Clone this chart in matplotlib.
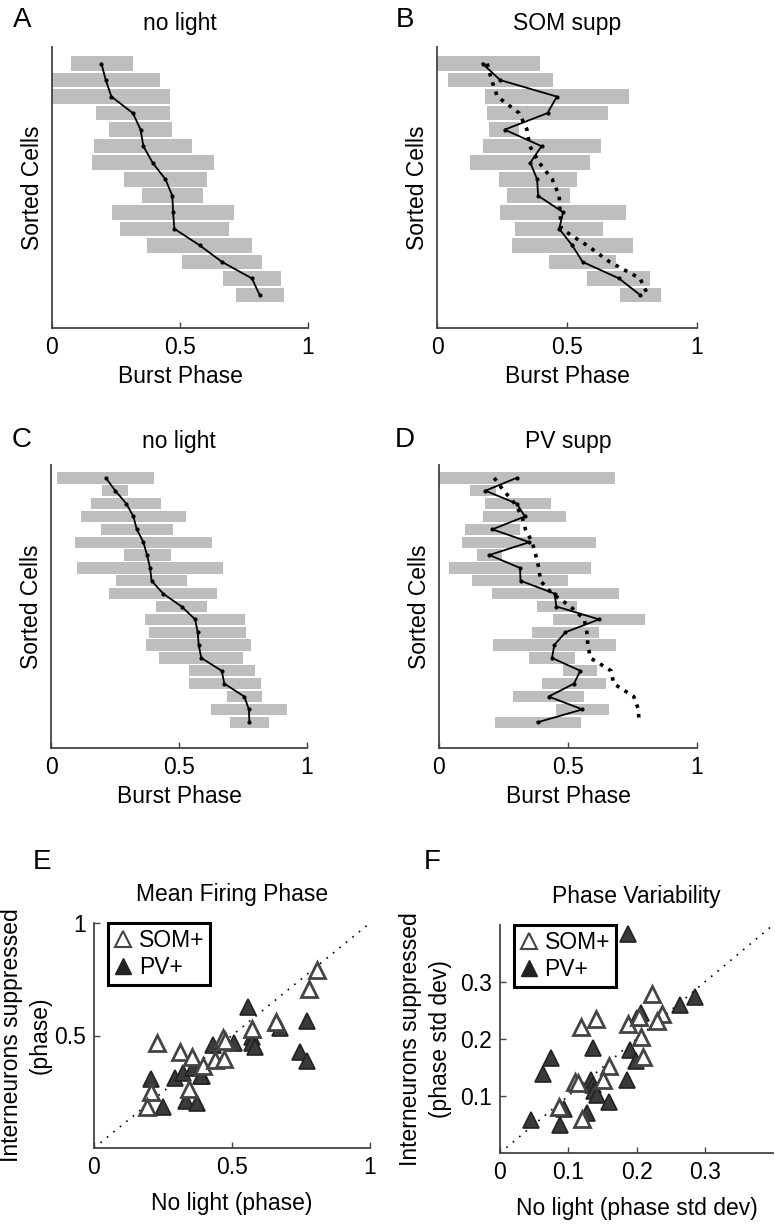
import numpy as np
import matplotlib
matplotlib.use('Agg')
import matplotlib.pyplot as plt
from matplotlib.lines import Line2D

plt.rcParams['font.family'] = ['Liberation Sans', 'DejaVu Sans']

# ---- panel A / B : SOM experiment (15 cells) ----
a_left = [0.073, 0.0, 0.0, 0.172, 0.223, 0.164, 0.158, 0.280, 0.350, 0.234, 0.267, 0.371, 0.509, 0.668, 0.719]
a_right = [0.315, 0.421, 0.460, 0.460, 0.469, 0.548, 0.632, 0.605, 0.589, 0.712, 0.693, 0.781, 0.819, 0.896, 0.905]
a_mean = [0.193, 0.210, 0.232, 0.316, 0.346, 0.357, 0.393, 0.443, 0.470, 0.473, 0.478, 0.577, 0.664, 0.781, 0.811]

b_left = [0.0, 0.044, 0.183, 0.192, 0.201, 0.175, 0.127, 0.237, 0.269, 0.243, 0.300, 0.287, 0.432, 0.575, 0.704]
b_right = [0.396, 0.445, 0.740, 0.659, 0.317, 0.629, 0.588, 0.539, 0.512, 0.728, 0.638, 0.753, 0.687, 0.821, 0.860]
b_mean = [0.175, 0.243, 0.461, 0.425, 0.260, 0.402, 0.359, 0.385, 0.389, 0.485, 0.470, 0.520, 0.560, 0.700, 0.781]

# ---- panel C / D : PV experiment (20 cells) ----
c_left = [0.022, 0.199, 0.158, 0.118, 0.195, 0.092, 0.284, 0.100, 0.255, 0.225,
          0.411, 0.367, 0.384, 0.371, 0.423, 0.538, 0.538, 0.689, 0.626, 0.698]
c_right = [0.404, 0.301, 0.431, 0.526, 0.477, 0.628, 0.467, 0.673, 0.533, 0.648,
           0.608, 0.757, 0.760, 0.783, 0.750, 0.796, 0.819, 0.823, 0.922, 0.853]
c_mean = [0.214, 0.251, 0.294, 0.322, 0.335, 0.361, 0.375, 0.387, 0.393, 0.438,
          0.510, 0.563, 0.573, 0.577, 0.587, 0.667, 0.677, 0.755, 0.773, 0.775]

d_left = [0.0, 0.121, 0.177, 0.171, 0.101, 0.089, 0.147, 0.040, 0.129, 0.205,
          0.381, 0.441, 0.362, 0.208, 0.348, 0.479, 0.401, 0.288, 0.455, 0.218]
d_right = [0.683, 0.221, 0.433, 0.494, 0.313, 0.609, 0.243, 0.588, 0.500, 0.698,
           0.534, 0.798, 0.619, 0.687, 0.527, 0.614, 0.647, 0.563, 0.658, 0.549]
d_mean = [0.301, 0.180, 0.301, 0.333, 0.207, 0.350, 0.195, 0.314, 0.316, 0.448,
          0.455, 0.620, 0.490, 0.447, 0.438, 0.548, 0.523, 0.425, 0.556, 0.382]

# ---- panel E : mean firing phase ----
e_som_x = [0.807, 0.780, 0.229, 0.312, 0.354, 0.394, 0.469, 0.475, 0.438, 0.471, 0.571, 0.659, 0.207, 0.193, 0.343]
e_som_y = [0.791, 0.707, 0.465, 0.428, 0.406, 0.366, 0.490, 0.476, 0.391, 0.394, 0.527, 0.561, 0.250, 0.181, 0.261]
e_pv_x = [0.559, 0.773, 0.659, 0.674, 0.571, 0.571, 0.583, 0.432, 0.507, 0.746,
          0.773, 0.207, 0.293, 0.324, 0.360, 0.390, 0.386, 0.251, 0.333, 0.374]
e_pv_y = [0.628, 0.564, 0.554, 0.532, 0.495, 0.465, 0.447, 0.458, 0.465, 0.428,
          0.388, 0.305, 0.310, 0.335, 0.354, 0.321, 0.321, 0.181, 0.210, 0.201]

# ---- panel F : phase variability ----
f_som_x = [0.223, 0.237, 0.230, 0.188, 0.203, 0.118, 0.141, 0.207, 0.210, 0.160, 0.151, 0.110, 0.115, 0.087, 0.120]
f_som_y = [0.279, 0.244, 0.232, 0.227, 0.239, 0.221, 0.235, 0.203, 0.169, 0.153, 0.128, 0.125, 0.123, 0.080, 0.059]
f_pv_x = [0.187, 0.264, 0.285, 0.207, 0.200, 0.074, 0.063, 0.136, 0.190, 0.199,
          0.134, 0.136, 0.138, 0.142, 0.160, 0.186, 0.045, 0.094, 0.088, 0.127]
f_pv_y = [0.384, 0.260, 0.274, 0.246, 0.236, 0.166, 0.139, 0.185, 0.180, 0.162,
          0.128, 0.119, 0.108, 0.102, 0.090, 0.128, 0.058, 0.077, 0.049, 0.070]

BAR = '#bebebe'
SPINE = '#444444'
FS = 16.5

fig = plt.figure(figsize=(7.75, 12.24), dpi=100)
W, H = 775.0, 1224.0


def add_ax(x0, x1, y0, y1):
    # pixel box -> figure fraction
    return fig.add_axes([x0 / W, 1 - y1 / H, (x1 - x0) / W, (y1 - y0) / H])


def style(ax):
    for s in ['top', 'right']:
        ax.spines[s].set_visible(False)
    for s in ['left', 'bottom']:
        ax.spines[s].set_color(SPINE)
        ax.spines[s].set_linewidth(1.3)
    ax.tick_params(direction='in', length=4, width=1, colors=SPINE, labelcolor='black',
                   labelsize=FS, pad=6)


def bar_panel(ax, left, right, mean, title, ref=None):
    n = len(mean)
    rows = np.arange(1, n + 1)
    ax.barh(rows, np.array(right) - np.array(left), left=left, height=0.88, color=BAR)
    if ref is not None:
        ax.plot(ref, rows, color='black', ls=(0, (1, 1.7)), lw=2.6)
    ax.plot(mean, rows, color='black', lw=1.3, marker='.', ms=4)
    ax.set_xlim(0, 1)
    ax.set_ylim(n + 2, 0)
    ax.set_xticks([0, 0.5, 1])
    ax.set_xticklabels(['0', '0.5', '1'])
    ax.set_yticks([])
    ax.set_xlabel('Burst Phase', fontsize=FS, labelpad=4)
    ax.set_ylabel('Sorted Cells', fontsize=FS, labelpad=6)
    ax.set_title(title, fontsize=FS, pad=12)
    style(ax)


axA = add_ax(52, 308, 47, 328)
bar_panel(axA, a_left, a_right, a_mean, 'no light')
axB = add_ax(437, 697, 47, 328)
bar_panel(axB, b_left, b_right, b_mean, 'SOM supp', ref=a_mean)
axC = add_ax(51, 307, 465, 748)
bar_panel(axC, c_left, c_right, c_mean, 'no light')
axD = add_ax(439, 697, 465, 748)
bar_panel(axD, d_left, d_right, d_mean, 'PV supp', ref=c_mean)


def scatter_panel(ax, sx, sy, px, py, lim, title, xlabel, ylab1, ylab2, y1x, y2x):
    ax.plot([0, lim], [0, lim], color='black', ls=(0, (1, 4)), lw=1.2)
    ax.plot(px, py, ls='none', marker='^', ms=11, mfc='#3a3a3a', mec='#222222', mew=1.2)
    ax.plot(sx, sy, ls='none', marker='^', ms=11, mfc='white', mec='#444444', mew=2)
    ax.set_xlim(0, lim)
    ax.set_ylim(0, lim)
    ax.set_title(title, fontsize=FS, pad=16)
    ax.set_xlabel(xlabel, fontsize=FS, labelpad=9)
    style(ax)
    # two-line y label, each line placed on its own
    ax.text(y1x, 0.5, ylab1, transform=ax.transAxes, rotation=90, fontsize=FS,
            ha='center', va='center')
    ax.text(y2x, 0.5, ylab2, transform=ax.transAxes, rotation=90, fontsize=FS,
            ha='center', va='center')
    handles = [Line2D([], [], ls='none', marker='^', ms=11, mfc='white', mec='#444444', mew=1.5),
               Line2D([], [], ls='none', marker='^', ms=11, mfc='#222222', mec='#222222')]
    leg = ax.legend(handles, ['SOM+', 'PV+'], loc='upper left', bbox_to_anchor=(0.05, 1.0),
                    fontsize=FS, frameon=True, fancybox=False, framealpha=1,
                    handlelength=0.8, handletextpad=0.3, borderpad=0.25, labelspacing=0.2,
                    borderaxespad=0)
    leg.get_frame().set_edgecolor('black')
    leg.get_frame().set_linewidth(2.2)


axE = add_ax(94, 370, 923, 1148)
scatter_panel(axE, e_som_x, e_som_y, e_pv_x, e_pv_y, 1.0, 'Mean Firing Phase',
              'No light (phase)', 'Interneurons suppressed', '(phase)',
              (12 - 94) / 276, (40 - 94) / 276)
axE.set_xticks([0, 0.5, 1])
axE.set_xticklabels(['0', '0.5', '1'])
axE.set_yticks([0.5, 1])
axE.set_yticklabels(['0.5', '1'])

axF = add_ax(500, 773, 925, 1153)
scatter_panel(axF, f_som_x, f_som_y, f_pv_x, f_pv_y, 0.4, 'Phase Variability',
              'No light (phase std dev)', 'Interneurons suppressed', '(phase std dev)',
              (411 - 500) / 273, (441 - 500) / 273)
axF.set_xticks([0, 0.1, 0.2, 0.3])
axF.set_xticklabels(['0', '0.1', '0.2', '0.3'])
axF.set_yticks([0.1, 0.2, 0.3])
axF.set_yticklabels(['0.1', '0.2', '0.3'])

# panel letters
for letter, (x, y) in {'A': (22, 20), 'B': (405, 20), 'C': (22, 440), 'D': (405, 440),
                       'E': (42, 862), 'F': (432, 862)}.items():
    fig.text(x / W, 1 - y / H, letter, fontsize=20, ha='center', va='center')

fig.savefig('out.png', dpi=100)
